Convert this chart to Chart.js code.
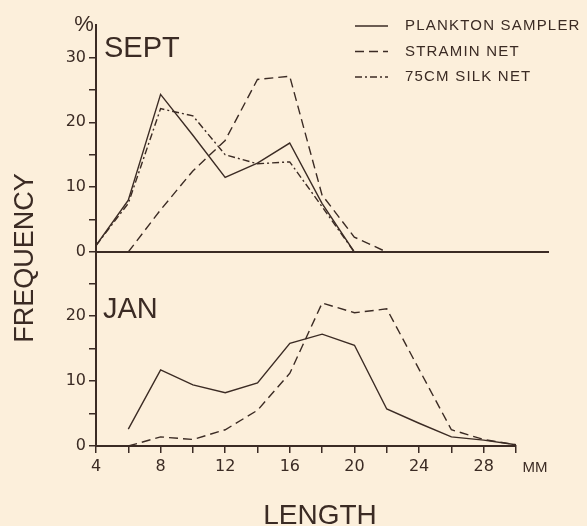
<!DOCTYPE html>
<html>
<head>
<meta charset="utf-8">
<script src="https://cdn.jsdelivr.net/npm/chart.js@4.4.0/dist/chart.umd.min.js"></script>
<style>
  html, body { margin: 0; padding: 0; background: #fcefdb; }
  #wrap { position: relative; width: 587px; height: 526px; }
  #wrap canvas { position: absolute; left: 0; top: 0; }
</style>
</head>
<body>
<div id="wrap">
  <canvas id="sept-chart" width="587" height="526"></canvas>
  <canvas id="jan-chart" width="587" height="526"></canvas>
</div>
<script>
/** Length classes in mm (x axis) */
const lengths = [4, 6, 8, 10, 12, 14, 16, 18, 20, 22, 24, 26, 28, 30];
/** Series names */
const netNames = ['PLANKTON SAMPLER', 'STRAMIN NET', '75CM SILK NET'];
/** September frequencies (%) */
const septPlankton = [1, 8, 24.3, 18, 11.5, 13.7, 16.8, 7.5, 0, null, null, null, null, null];
const septStramin = [null, 0, 6.5, 12.5, 17.2, 26.6, 27.1, 8.8, 2.3, 0, null, null, null, null];
const septSilk = [1, 7.5, 22.1, 21, 15, 13.6, 13.9, 7, 0, null, null, null, null, null];
/** January frequencies (%) */
const janPlankton = [null, 2.6, 11.7, 9.4, 8.2, 9.7, 15.8, 17.2, 15.5, 5.7, 3.5, 1.4, 0.9, 0.2];
const janStramin = [null, 0, 1.4, 1, 2.5, 5.5, 11.2, 22, 20.5, 21.1, 11.8, 2.5, 1, 0.2];
/** Y tick values for each panel */
const septTicks = [0, 5, 10, 15, 20, 25, 30];
const janTicks = [0, 5, 10, 15, 20, 25];

const ink = '#3b2b24';
const dashes = [[], [9, 5], [7, 3, 2, 3]];

const toPoints = (values) => lengths.map((x, i) => ({x, y: values[i]}));

const makeSet = (idx, values) => ({
  label: netNames[idx],
  data: toPoints(values),
  borderColor: ink,
  borderWidth: 1.4,
  borderDash: dashes[idx],
  pointRadius: 0,
  tension: 0,
  fill: false,
});

/** Draws free text items on the canvas */
const textPlugin = (items) => ({
  id: 'freeText',
  afterDraw(chart) {
    const ctx = chart.ctx;
    items.forEach(item => {
      ctx.save();
      ctx.font = item.font;
      ctx.fillStyle = ink;
      ctx.textAlign = item.align || 'left';
      ctx.textBaseline = item.baseline || 'alphabetic';
      ctx.translate(item.x, item.y);
      if (item.rotate) ctx.rotate(item.rotate);
      ctx.fillText(item.text, 0, 0);
      ctx.restore();
    });
  }
});

/** Legend in the top right corner using each dataset's dash */
const legendPlugin = {
  id: 'netLegend',
  afterDraw(chart) {
    const ctx = chart.ctx;
    ctx.save();
    ctx.font = '15px "Liberation Sans"';
    ctx.letterSpacing = '1.2px';
    ctx.fillStyle = ink;
    ctx.strokeStyle = ink;
    ctx.textBaseline = 'middle';
    chart.data.datasets.forEach((ds, i) => {
      const y = 26 + i * 25.5;
      ctx.lineWidth = 1.3;
      ctx.setLineDash(ds.borderDash);
      ctx.beginPath();
      ctx.moveTo(355, y);
      ctx.lineTo(388, y);
      ctx.stroke();
      ctx.setLineDash([]);
      ctx.fillText(ds.label, 405, y);
    });
    ctx.restore();
  }
};

const yAxis = (max, tickList) => ({
  min: 0,
  max: max,
  afterFit: (scale) => { scale.width = 96; },
  afterBuildTicks: (scale) => { scale.ticks = tickList.map(v => ({value: v})); },
  ticks: {
    color: ink,
    font: {family: 'DejaVu Sans', size: 16},
    padding: 3,
    callback: (v) => (v % 10 === 0 ? v : ''),
  },
  grid: {drawOnChartArea: false, tickLength: 7, color: ink, lineWidth: 1.5},
  border: {color: ink, width: 2},
});

const baseOptions = (padding, scales) => ({
  responsive: false,
  animation: false,
  devicePixelRatio: 1,
  layout: {padding},
  plugins: {legend: {display: false}, tooltip: {enabled: false}},
  scales,
});

new Chart(document.getElementById('sept-chart'), {
  type: 'line',
  data: {datasets: [makeSet(0, septPlankton), makeSet(1, septStramin), makeSet(2, septSilk)]},
  options: baseOptions({left: 0, top: 25, right: 39, bottom: 274}, {
    x: {
      type: 'linear', min: 4, max: 32,
      ticks: {display: false},
      grid: {drawOnChartArea: false, drawTicks: false},
      border: {color: ink, width: 2},
    },
    y: yAxis(35, septTicks),
  }),
  plugins: [legendPlugin, textPlugin([
    {text: '%', x: 84, y: 31, font: '22px "Liberation Sans"', align: 'center'},
    {text: 'SEPT', x: 104, y: 57, font: '29px "Liberation Sans"'},
    {text: 'FREQUENCY', x: 33, y: 258, font: '27px "Liberation Sans"', align: 'center', rotate: -Math.PI / 2},
  ])],
});

new Chart(document.getElementById('jan-chart'), {
  type: 'line',
  data: {datasets: [makeSet(0, janPlankton), makeSet(1, janStramin)]},
  options: baseOptions({left: 0, top: 251, right: 71, bottom: 50}, {
    x: {
      type: 'linear', min: 4, max: 30,
      afterFit: (scale) => { scale.height = 30; },
      afterBuildTicks: (scale) => { scale.ticks = lengths.map(v => ({value: v})); },
      ticks: {
        color: ink,
        font: {family: 'DejaVu Sans', size: 16},
        padding: 4,
        maxRotation: 0,
        autoSkip: false,
        callback: (v) => (v % 4 === 0 && v < 30 ? v : ''),
      },
      grid: {drawOnChartArea: false, tickLength: 7, color: ink, lineWidth: 1.5},
      border: {color: ink, width: 2},
    },
    y: yAxis(30, janTicks),
  }),
  plugins: [textPlugin([
    {text: 'JAN', x: 103, y: 318, font: '29px "Liberation Sans"'},
    {text: 'MM', x: 535, y: 472, font: '15px "Liberation Sans"', align: 'center'},
    {text: 'LENGTH', x: 320, y: 524, font: '28px "Liberation Sans"', align: 'center'},
  ])],
});
</script>
</body>
</html>
